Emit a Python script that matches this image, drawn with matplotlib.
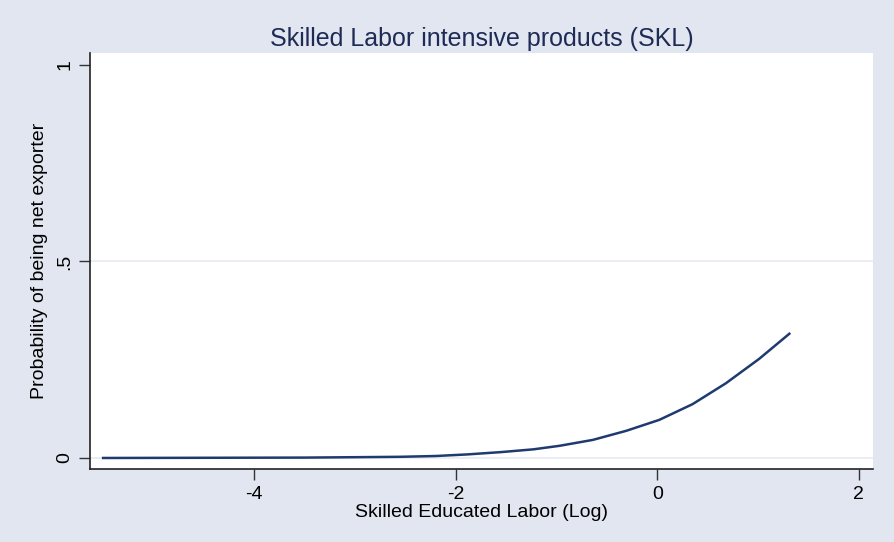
import matplotlib.pyplot as plt

plt.rcParams['font.family'] = ['Liberation Sans', 'DejaVu Sans']
plt.rcParams['axes.unicode_minus'] = False

# predicted probability
skill_log = [-5.5, -4.5, -3.5, -3.0, -2.55, -2.2, -1.89, -1.55, -1.23, -0.97,
             -0.64, -0.31, 0.02, 0.35, 0.68, 1.01, 1.31]
prob = [0.000, 0.0005, 0.001, 0.002, 0.003, 0.005, 0.009, 0.015, 0.022, 0.031,
        0.046, 0.069, 0.097, 0.137, 0.190, 0.252, 0.316]

x_ticks = [-4, -2, 0, 2]
y_ticks = [0, 0.5, 1]
y_labels = ['0', '.5', '1']

bg = '#e1e6f0'
fig = plt.figure(figsize=(8.95, 5.42), dpi=100, facecolor=bg)
ax = fig.add_axes([0.1006, 0.1347, 0.8748, 0.7675])
ax.set_facecolor('white')

for g in [0, 0.5]:
    ax.axhline(g, color='#e6eaf2', lw=1.2, zorder=1)

ax.plot(skill_log, prob, color='#1f3a6e', lw=1.8, zorder=3)

ax.set_xlim(-5.63, 2.14)
ax.set_ylim(-0.028, 1.03)
ax.set_xticks(x_ticks)
ax.set_yticks(y_ticks)
ax.set_yticklabels(y_labels, rotation=90, va='center')
ax.tick_params(axis='both', direction='out', length=8, width=1, color='#333333',
               labelsize=14, pad=4)

for s in ['top', 'right']:
    ax.spines[s].set_visible(False)
for s in ['left', 'bottom']:
    ax.spines[s].set_color('#222222')
    ax.spines[s].set_linewidth(1.2)

ax.set_xlabel('Skilled Educated Labor (Log)', fontsize=14, labelpad=1)
ax.set_ylabel('Probability of being net exporter', fontsize=14, labelpad=6)
ax.set_title('Skilled Labor intensive products (SKL)', fontsize=18, color='#1e2b55', pad=5)

fig.savefig('out.png', dpi=100, facecolor=bg)
